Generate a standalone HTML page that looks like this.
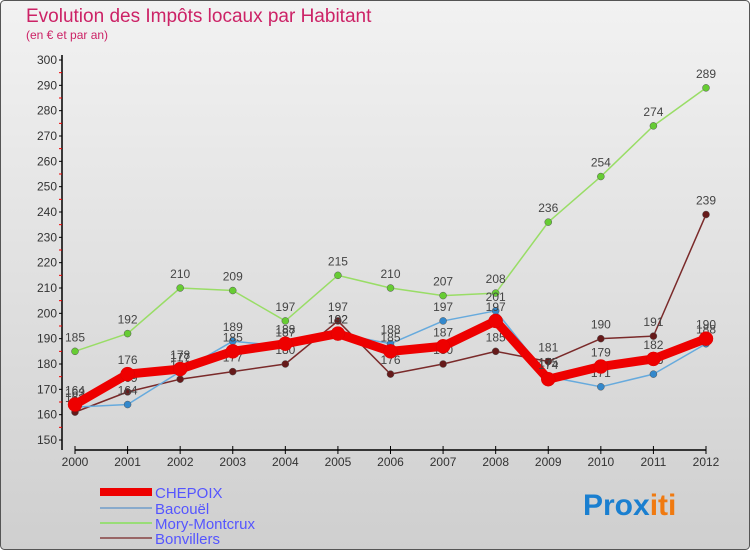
<!DOCTYPE html>
<html><head><meta charset="utf-8"><style>
body{margin:0;width:750px;height:550px;overflow:hidden;font-family:"Liberation Sans",sans-serif}
svg{display:block}
</style></head><body>
<svg id="chart" width="750" height="550" xmlns="http://www.w3.org/2000/svg">
<defs><linearGradient id="bg" x1="0" y1="0" x2="0" y2="1"><stop offset="0" stop-color="#f2f2f2"/><stop offset="1" stop-color="#cfcfcf"/></linearGradient></defs>
<rect x="0.5" y="0.5" width="749" height="549" rx="4" fill="url(#bg)" stroke="#555"/>
<text x="26" y="22" font-size="19" fill="#cc2266">Evolution des Impôts locaux par Habitant</text>
<text x="26" y="39" font-size="12" fill="#cc2266">(en € et par an)</text>
<g id="axes"></g><g id="series"></g><g id="legend"></g>
<text x="583" y="515" font-size="30" font-weight="bold"><tspan fill="#1a7fd0">Pro</tspan><tspan fill="#1a7fd0">x</tspan><tspan fill="#f07a10">iti</tspan></text>
</svg>
<script>
const years=[2000,2001,2002,2003,2004,2005,2006,2007,2008,2009,2010,2011,2012];
const chepoix=[164,176,178,185,188,192,185,187,197,174,179,182,190];
const bacouel=[163,164,177,189,187,192,188,197,201,175,171,176,188];
const mory=[185,192,210,209,197,215,210,207,208,236,254,274,289];
const bonvillers=[161,169,174,177,180,197,176,180,185,181,190,191,239];
const yTicks=[150,160,170,180,190,200,210,220,230,240,250,260,270,280,290,300];
const NS="http://www.w3.org/2000/svg";
const x=i=>75+i*(706-75)/(years.length-1);
const y=v=>440-(v-150)*(380/150);
function mk(t,a,p){const e=document.createElementNS(NS,t);for(const k in a)e.setAttribute(k,a[k]);p.appendChild(e);return e;}
const ax=document.getElementById('axes');
const yl=mk('line',{x1:62,y1:55,x2:62,y2:450,stroke:'#000','stroke-width':1.5},ax);


const xl=mk('line',{x1:75,y1:450,x2:706,y2:450,stroke:'#000','stroke-width':1.5},ax);


yTicks.forEach(v=>{
 mk('line',{x1:59,y1:y(v),x2:62,y2:y(v),stroke:'#000'},ax);
 if(v<300)mk('line',{x1:59,y1:y(v+5),x2:62,y2:y(v+5),stroke:'#e00'},ax);
 const t=mk('text',{x:57,y:y(v)+4,'font-size':12,'text-anchor':'end',fill:'#333'},ax);
 t.textContent=v;
 
 
});
years.forEach((yr,i)=>{
 mk('line',{x1:x(i),y1:446,x2:x(i),y2:454,stroke:'#000'},ax);
 const t=mk('text',{x:x(i),y:466,'font-size':12,'text-anchor':'middle',fill:'#333'},ax);
 t.textContent=yr;
 
 
});
const sg=document.getElementById('series');
const defs=[
 {d:mory,c:'#99dd66',pc:'#66cc33',w:1.5,r:3.5,n:'mory-montcrux'},
 {d:bonvillers,c:'#7a2a2a',pc:'#661a1a',w:1.5,r:3.5,n:'bonvillers'},
 {d:bacouel,c:'#66aadd',pc:'#3388cc',w:1.5,r:3.5,n:'bacouel'},
 {d:chepoix,c:'#ee0000',pc:'#ee0000',w:9,r:7,n:'chepoix'}];
defs.forEach(s=>{
 const g=mk('g',{},sg);
 
 
 const pl=mk('polyline',{points:s.d.map((v,i)=>x(i)+','+y(v)).join(' '),fill:'none',stroke:s.c,'stroke-width':s.w,'stroke-linejoin':'round'},g);
 
 
 s.d.forEach((v,i)=>{
  const c=mk('circle',{cx:x(i),cy:y(v),r:s.r,fill:s.pc,stroke:s.n=='chepoix'?'#d00':'#555','stroke-width':0.5},g);
  
  
  const t=mk('text',{x:x(i),y:y(v)-10,'font-size':12,'text-anchor':'middle',fill:'#444'},g);
  t.textContent=v;
  
  
 });
});
const lg=document.getElementById('legend');
[['CHEPOIX','#ee0000',8,492],['Bacouël','#88aacc',2,508],['Mory-Montcrux','#99dd77',2,523],['Bonvillers','#996666',2,538]].forEach(e=>{
 const g=mk('g',{},lg);
 
 
 mk('line',{x1:100,y1:e[3],x2:152,y2:e[3],stroke:e[1],'stroke-width':e[2]},g);
 const t=mk('text',{x:155,y:e[3]+6,'font-size':15,fill:'#5555ff'},g);
 t.textContent=e[0];
});
</script>
</body></html>
